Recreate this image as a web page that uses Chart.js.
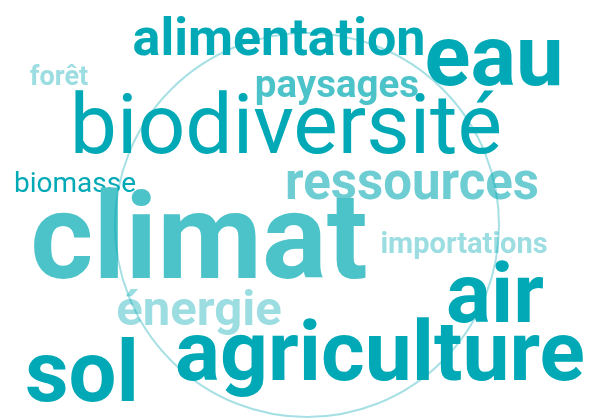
<!DOCTYPE html>
<html>
<head>
<meta charset="utf-8">
<script src="https://cdn.jsdelivr.net/npm/chart.js@4/dist/chart.umd.min.js"></script>
<style>
  body { margin: 0; background: #fff; }
</style>
</head>
<body>
<canvas id="chart" width="590" height="420"></canvas>
<script>
// word cloud data: word, weight, and where it sits on the 590 x 420 value grid
const words = ["alimentation", "eau", "paysages", "forêt", "biodiversité", "biomasse",
  "ressources", "climat", "importations", "énergie", "air", "agriculture", "sol"];
const weights = [52, 85, 38.5, 27, 84, 28, 51, 121, 29, 49, 84, 84, 85];
const xPos = [279, 494, 337, 59, 286, 75, 412, 199, 464, 199, 495, 380, 82];
const yPos = [55, 85, 97, 85, 153, 192, 199, 278, 253, 325, 322, 380, 401];

// background ring: centre and radius in the same value units
const ringX = [307];
const ringY = [225];
const ringR = [192];

// look of each word (kept apart from the data)
const palette = ["#00a9b5", "#4cc2c9", "#6dcdd3", "#9bdde1"];
const wordStyle = {
  "alimentation": [700, 0], "eau": [700, 0], "paysages": [700, 1], "forêt": [700, 3],
  "biodiversité": [400, 0], "biomasse": [400, 0], "ressources": [700, 2],
  "climat": [700, 1], "importations": [700, 3], "énergie": [700, 3],
  "air": [700, 0], "agriculture": [700, 0], "sol": [700, 0]
};

const cloudPlugin = {
  id: "cloud",
  afterDatasetsDraw(chart) {
    const ctx = chart.ctx;
    const sx = chart.scales.x, sy = chart.scales.y;
    ctx.save();
    ctx.textAlign = "center";
    ctx.textBaseline = "alphabetic";
    words.forEach((w, i) => {
      const st = wordStyle[w];
      ctx.font = st[0] + " " + weights[i] + "px Roboto";
      ctx.fillStyle = palette[st[1]];
      ctx.fillText(w, sx.getPixelForValue(xPos[i]), sy.getPixelForValue(yPos[i]));
    });
    // ring drawn over the words, semi-transparent
    ctx.strokeStyle = "rgba(0,166,178,0.35)";
    ctx.lineWidth = 2;
    ringX.forEach((cx, i) => {
      const px = sx.getPixelForValue(cx), py = sy.getPixelForValue(ringY[i]);
      const pr = sx.getPixelForValue(cx + ringR[i]) - px;
      ctx.beginPath();
      ctx.arc(px, py, pr, 0, Math.PI * 2);
      ctx.stroke();
    });
    ctx.restore();
  }
};

new Chart(document.getElementById("chart"), {
  type: "scatter",
  data: {
    datasets: [{
      data: words.map((w, i) => ({ x: xPos[i], y: yPos[i] })),
      pointRadius: 0,
      pointHoverRadius: 0
    }]
  },
  options: {
    responsive: false,
    animation: false,
    layout: { padding: 0 },
    plugins: {
      legend: { display: false },
      tooltip: { enabled: false }
    },
    scales: {
      x: { type: "linear", min: 0, max: 590, display: false },
      y: { type: "linear", min: 0, max: 420, reverse: true, display: false }
    }
  },
  plugins: [cloudPlugin]
});
</script>
</body>
</html>
